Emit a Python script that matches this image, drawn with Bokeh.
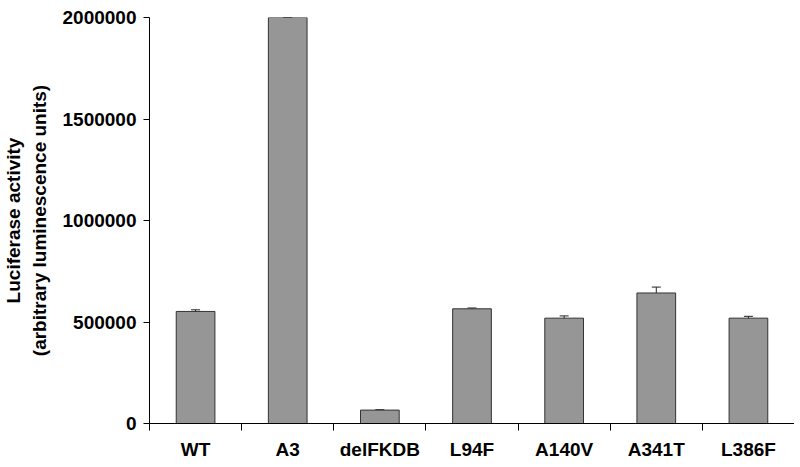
from bokeh.plotting import figure
from bokeh.models import ColumnDataSource, Range1d, FixedTicker, Whisker
from bokeh.embed import file_html
from bokeh.resources import INLINE

categories = ["WT", "A3", "delFKDB", "L94F", "A140V", "A341T", "L386F"]
values = [552000, 2000000, 66000, 565000, 519000, 643000, 519000]
errors = [8000, 0, 2000, 4000, 11000, 29000, 9000]
y_ticks = [0, 500000, 1000000, 1500000, 2000000]

xs = [i + 0.5 for i in range(len(categories))]
src = ColumnDataSource(dict(
    x=xs, top=values,
    upper=[v + e for v, e in zip(values, errors)],
    lower=[v - e for v, e in zip(values, errors)],
))

p = figure(width=794, height=463, output_backend="svg", toolbar_location=None,
           x_range=Range1d(0, len(categories)), y_range=Range1d(0, 2000000),
           min_border_left=145, min_border_right=0, min_border_top=17, min_border_bottom=40)
p.outline_line_color = None
p.xgrid.visible = False
p.ygrid.visible = False
p.background_fill_color = "white"

p.vbar(x="x", top="top", width=0.42, bottom=0, source=src,
       fill_color="#969696", line_color="#333333", line_width=1)
err = Whisker(base="x", upper="upper", lower="lower", source=src,
              line_color="#222222", line_width=1)
err.upper_head.size = 9
err.lower_head.size = 9
err.upper_head.line_color = "#222222"
err.lower_head.line_color = "#222222"
p.add_layout(err)

font = "Liberation Sans"
# y axis
ya = p.yaxis[0]
ya.ticker = FixedTicker(ticks=y_ticks)
ya.major_label_overrides = {t: str(t) for t in y_ticks}
ya.major_label_text_font = font
ya.major_label_text_font_style = "bold"
ya.major_label_text_font_size = "19px"
ya.major_label_text_color = "black"
ya.major_label_standoff = 7
ya.major_tick_in = 0
ya.major_tick_out = 6
ya.minor_tick_out = 0
ya.minor_tick_in = 0
ya.axis_line_color = "black"
ya.major_tick_line_color = "black"
ya.axis_label = "Luciferase activity\n(arbitrary luminescence units)"
ya.axis_label_text_font = font
ya.axis_label_text_font_style = "bold"
ya.axis_label_text_font_size = "19px"
ya.axis_label_text_color = "black"
ya.axis_label_standoff = 10

# x axis
xa = p.xaxis[0]
xa.ticker = FixedTicker(ticks=xs, minor_ticks=list(range(len(categories) + 1)))
xa.major_label_overrides = {x: c for x, c in zip(xs, categories)}
xa.major_label_text_font = font
xa.major_label_text_font_style = "bold"
xa.major_label_text_font_size = "19px"
xa.major_label_text_color = "black"
xa.major_label_standoff = 8
xa.major_tick_in = 0
xa.major_tick_out = 0
xa.minor_tick_in = 0
xa.minor_tick_out = 7
xa.minor_tick_line_color = "black"
xa.axis_line_color = "black"

open("out.html", "w").write(file_html(p, INLINE))
